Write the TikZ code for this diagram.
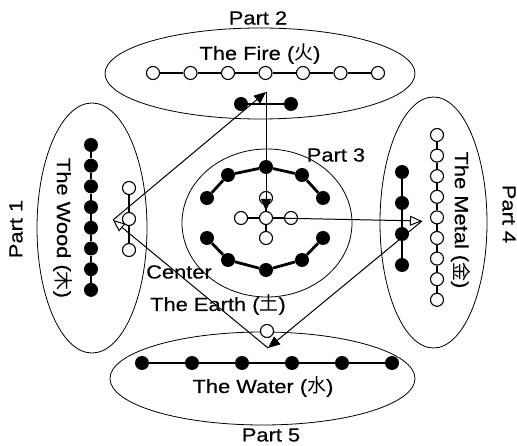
\documentclass[tikz,border=0pt]{standalone}
\usepackage{fontspec}
\setmainfont{Liberation Sans}[FakeStretch=1.15,FakeBold=0.4]
\newfontfamily\cjk{Noto Sans CJK SC}
\usetikzlibrary{arrows.meta}

\tikzset{
  rim/.style={line width=0.8pt},
  lab/.style={inner sep=0pt,font=\fontsize{19}{22}\selectfont},
  opendot/.style={circle,draw,line width=1.1pt,fill=white,minimum size=13pt,inner sep=0pt},
  fulldot/.style={circle,fill=black,minimum size=14pt,inner sep=0pt},
  chain/.style={line width=2.8pt},
  arr/.style={line width=1pt,-{Triangle[length=12pt,width=10pt]}},
  openarr/.style={line width=1pt,-{Triangle[open,length=12pt,width=10pt]}}
}

\begin{document}
\begin{tikzpicture}[x=1pt,y=-1pt]
  \useasboundingbox (0,0) rectangle (517,446);
  % the five parts
  \draw[rim] (260,73.5) ellipse [x radius=155pt,y radius=45.5pt];
  \draw[rim] (92,228) ellipse [x radius=55pt,y radius=125pt];
  \draw[rim] (267,223) ellipse [x radius=85pt,y radius=74pt];
  \draw[rim] (433.5,222.5) ellipse [x radius=53.5pt,y radius=125.5pt];
  \draw[rim] (262.5,378.5) ellipse [x radius=152.5pt,y radius=46.5pt];

  \node[lab] (part2) at (258,18) {Part 2};
  \node[lab] (fire) at (260,54) {The Fire ({\cjk 火})};
  \node[lab,rotate=90] (part1) at (16,229) {Part 1};
  \node[lab,rotate=-90] (wood) at (63,228) {The Wood ({\cjk 木})};
  \node[lab] (part3) at (336,155) {Part 3};
  \node[lab,rotate=-90] (metal) at (461,220) {The Metal ({\cjk 金})};
  \node[lab,rotate=-90] (part4) at (509,214) {Part 4};
  \node[lab] (center) at (179,272) {Center};
  \node[lab] (earth) at (218,305) {The Earth ({\cjk 土})};
  \node[lab] (water) at (263,387) {The Water ({\cjk 水})};
  \node[lab] (part5) at (271,435) {Part 5};

  % fire
  \foreach \i in {1,...,7}
    \node[opendot] (f\i) at ({153+37.5*(\i-1)},73) {};
  \foreach \i [count=\j from 2] in {1,...,6}
    \draw[chain] (f\i) -- (f\j);
  \node[fulldot] (fa) at (241,104) {};
  \node[fulldot] (fb) at (291,104) {};
  \draw[chain] (fa) -- (fb);

  % wood
  \foreach \i in {1,...,8}
    \node[fulldot] (w\i) at (91,{145+20.7*(\i-1)}) {};
  \foreach \i [count=\j from 2] in {1,...,7}
    \draw[chain] (w\i) -- (w\j);
  \foreach \i/\y in {1/188,2/219,3/250}
    \node[opendot] (wo\i) at (129,\y) {};
  \draw[chain] (wo1) -- (wo2);
  \draw[chain] (wo2) -- (wo3);

  % metal
  \foreach \i in {1,...,9}
    \node[opendot] (m\i) at (437,{135+20.6*(\i-1)}) {};
  \foreach \i [count=\j from 2] in {1,...,8}
    \draw[chain] (m\i) -- (m\j);
  \foreach \i in {1,...,4}
    \node[fulldot] (mf\i) at (402,{172+31*(\i-1)}) {};
  \foreach \i [count=\j from 2] in {1,...,3}
    \draw[chain] (mf\i) -- (mf\j);

  % water
  \foreach \i in {1,...,6}
    \node[fulldot] (h\i) at ({142+50*(\i-1)},363) {};
  \foreach \i [count=\j from 2] in {1,...,5}
    \draw[chain] (h\i) -- (h\j);
  \node[opendot] (ho) at (267,331) {};

  % earth
  \node[opendot] (e0) at (266,218) {};
  \foreach \i/\x/\y in {1/241/218,2/291/218,3/266/198,4/266/238} {
    \node[opendot] (e\i) at (\x,\y) {};
    \draw[chain] (e0) -- (e\i);
  }
  \foreach \i/\x/\y in {1/207/198,2/228/175,3/266/167,4/302/175,5/323/198}
    \node[fulldot] (u\i) at (\x,\y) {};
  \foreach \i/\x/\y in {1/207/238,2/228/260,3/266/270,4/302/260,5/323/238}
    \node[fulldot] (l\i) at (\x,\y) {};
  \foreach \i [count=\j from 2] in {1,...,4} {
    \draw[chain] (u\i) -- (u\j);
    \draw[chain] (l\i) -- (l\j);
  }

  % cycle
  \coordinate (woodtip) at (113,220);
  \coordinate (firetip) at (266,92);
  \coordinate (metaltip) at (422,221);
  \coordinate (watertip) at (268,348);
  \draw[arr] (woodtip) -- (firetip);
  \draw[arr] (firetip) -- (e0.north);
  \draw[openarr] (e0.east) -- (metaltip);
  \draw[arr] (metaltip) -- (watertip);
  \draw[openarr] (watertip) -- (woodtip);
\end{tikzpicture}
\end{document}
